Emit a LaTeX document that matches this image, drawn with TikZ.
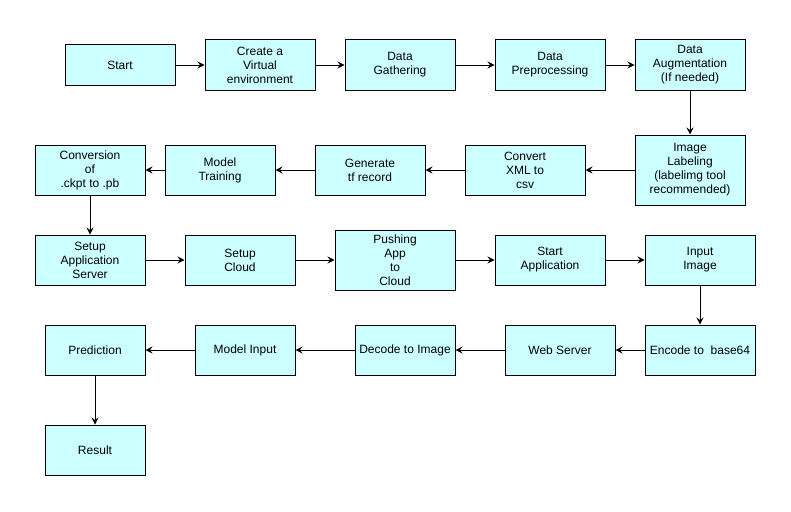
\documentclass[tikz,border=0pt]{standalone}
\usepackage{fontspec}
\setmainfont{Liberation Sans}
\usetikzlibrary{arrows.meta}
\definecolor{boxfill}{HTML}{CCFFFF}
\tikzset{
  box/.style={draw=black, fill=boxfill, line width=1pt, align=center, inner sep=0pt,
    font=\fontsize{12}{14}\selectfont},
  flow/.style={draw=black, line width=1pt, -{Stealth[length=7pt,width=7pt,inset=2.5pt]}}
}
\newcommand{\bx}[6]{\node[box, minimum width=#4pt, minimum height=#5pt] (#1) at (#2,#3) {#6};}
\begin{document}
\begin{tikzpicture}[x=1pt,y=-1pt]
\useasboundingbox[fill=white] (0,0) rectangle (791,511);
% row 1
\bx{start}{120}{65}{110}{40}{Start}
\bx{venv}{260}{65}{110}{50}{Create a\\Virtual\\environment}
\bx{gather}{400}{65}{110}{50}{Data\\Gathering}
\bx{prep}{550}{65}{110}{50}{Data\\Preprocessing}
\bx{aug}{690}{65}{110}{50}{Data\\Augmentation\\(If needed)}
% row 2
\bx{label}{690}{170}{110}{70}{Image\\Labeling\\(labelimg tool\\recommended)}
\bx{xml}{525}{170}{120}{50}{Convert\\XML to\\csv}
\bx{tfrec}{370}{170}{110}{50}{Generate\\tf record}
\bx{train}{220}{170}{110}{50}{Model\\Training}
\bx{conv}{90}{170}{110}{50}{Conversion\\of\\.ckpt to .pb}
% row 3
\bx{appserv}{90}{260}{110}{50}{Setup\\Application\\Server}
\bx{cloud}{240}{260}{110}{50}{Setup\\Cloud}
\bx{push}{395}{260}{120}{60}{Pushing\\App\\to\\Cloud}
\bx{startapp}{550}{260}{110}{50}{Start\\Application}
\bx{input}{700}{260}{110}{50}{Input\\Image}
% row 4
\bx{encode}{700}{350}{110}{50}{Encode to\ \ base64}
\bx{web}{560}{350}{110}{50}{Web Server}
\bx{decode}{405}{350}{100}{50}{Decode to Image}
\bx{minput}{245}{350}{100}{50}{Model Input}
\bx{pred}{95}{350}{100}{50}{Prediction}
% row 5
\bx{result}{95}{450}{100}{50}{Result}
% connectors
\draw[flow] (start) -- (venv);
\draw[flow] (venv) -- (gather);
\draw[flow] (gather) -- (prep);
\draw[flow] (prep) -- (aug);
\draw[flow] (aug) -- (label);
\draw[flow] (label) -- (xml);
\draw[flow] (xml) -- (tfrec);
\draw[flow] (tfrec) -- (train);
\draw[flow] (train) -- (conv);
\draw[flow] (conv) -- (appserv);
\draw[flow] (appserv) -- (cloud);
\draw[flow] (cloud) -- (push);
\draw[flow] (push) -- (startapp);
\draw[flow] (startapp) -- (input);
\draw[flow] (input) -- (encode);
\draw[flow] (encode) -- (web);
\draw[flow] (web) -- (decode);
\draw[flow] (decode) -- (minput);
\draw[flow] (minput) -- (pred);
\draw[flow] (pred) -- (result);
\end{tikzpicture}
\end{document}
